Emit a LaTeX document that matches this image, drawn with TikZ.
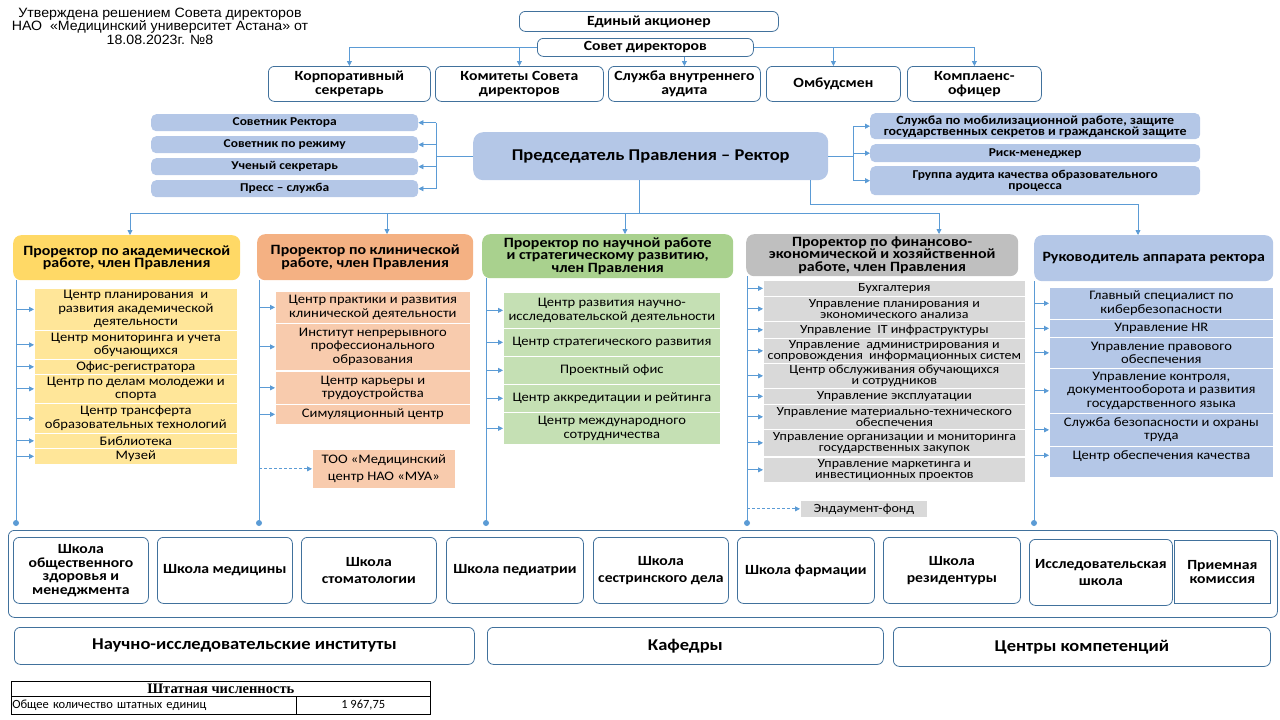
\documentclass[tikz,border=0pt]{standalone}
\usepackage{fontspec}
\setmainfont{Carlito}[FakeStretch=1.12]
\newfontfamily\notefont{Liberation Sans}[FakeStretch=1.05]
\newfontfamily\plainfont{Carlito}
\newfontfamily\tabfont{Liberation Serif}
\usetikzlibrary{arrows.meta}

\definecolor{boxline}{RGB}{65,113,156}
\definecolor{conncol}{RGB}{91,155,213}
\definecolor{lblue}{RGB}{180,199,231}
\definecolor{hgold}{RGB}{255,217,102}
\definecolor{lgold}{RGB}{255,230,153}
\definecolor{hsalmon}{RGB}{244,177,131}
\definecolor{lsalmon}{RGB}{248,203,173}
\definecolor{hgreen}{RGB}{169,209,142}
\definecolor{lgreen}{RGB}{197,224,180}
\definecolor{hgray}{RGB}{191,191,191}
\definecolor{lgray}{RGB}{217,217,217}

\tikzset{
  topbox/.style={draw=boxline, line width=0.8pt, rounded corners=6pt, fill=white,
    anchor=north west, inner sep=0pt, align=center,
    font=\bfseries\fontsize{14}{13.5}\selectfont},
  sidebox/.style={fill=lblue, rounded corners=5pt, anchor=north west, inner sep=0pt,
    align=center, font=\bfseries\fontsize{12}{11}\selectfont},
  headbox/.style={rounded corners=8pt, anchor=north west, inner sep=0pt, align=center,
    font=\bfseries\fontsize{14.2}{12.6}\selectfont},
  unitbox/.style={draw=white, line width=0.7pt, anchor=north west, inner sep=0pt,
    align=center, font=\fontsize{13}{13.5}\selectfont},
  finbox/.style={unitbox, font=\fontsize{12.5}{10.5}\selectfont},
  conn/.style={draw=conncol, line width=0.8pt},
  arr/.style={conn, -{Triangle[length=5pt,width=5pt]}},
  darr/.style={arr, dashed, dash pattern=on 3pt off 2pt},
  tabcell/.style={draw=black, line width=0.6pt, anchor=north west, inner sep=1pt}
}

\begin{document}
\begin{tikzpicture}[x=1pt,y=-1pt]
\useasboundingbox (0,0) rectangle (1280,720);

% note
\node[align=center, font=\notefont\fontsize{13.5}{11.5}\selectfont] (note) at (160,26)
  {Утверждена решением Совета директоров\\НАО \ «Медицинский университет Астана» от\\18.08.2023г. №8};

% board level
\node[topbox, minimum width=259, minimum height=20] (ea) at (519,11) {Единый акционер};
\node[topbox, minimum width=216, minimum height=18] (sd) at (537,38) {Совет директоров};
\node[topbox, minimum width=162, minimum height=35] (ks) at (268,66) {Корпоративный\\секретарь};
\node[topbox, minimum width=168, minimum height=35] (kd) at (435,66) {Комитеты Совета\\директоров};
\node[topbox, minimum width=152, minimum height=35] (sva) at (608,66) {Служба внутреннего\\аудита};
\node[topbox, minimum width=134, minimum height=35] (omb) at (766,66) {Омбудсмен};
\node[topbox, minimum width=134, minimum height=35] (ko) at (907,66) {Комплаенс-\\офицер};

\draw[arr] (sd.west) -| (ks.north);
\draw[arr] (sd.west) -| (kd.north);
\draw[arr] (sd.south -| sva.north) -- (sva.north);
\draw[arr] (sd.east) -| (omb.north);
\draw[arr] (sd.east) -| (ko.north);

% rector
\node[fill=lblue, rounded corners=10pt, anchor=north west, minimum width=355, minimum height=48,
  font=\bfseries\fontsize{16.5}{16}\selectfont] (pr) at (473,132) {Председатель Правления – Ректор};

% left advisers
\node[sidebox, minimum width=267, minimum height=17] (sr) at (151,114) {Советник Ректора};
\node[sidebox, minimum width=267, minimum height=17] (spr) at (151,136) {Советник по режиму};
\node[sidebox, minimum width=267, minimum height=17] (us) at (151,158) {Ученый секретарь};
\node[sidebox, minimum width=267, minimum height=17] (ps) at (151,180) {Пресс – служба};
\coordinate (lj) at (436,156);
\draw[conn] (pr.west) -- (pr.west -| lj);
\draw[conn] (lj |- sr.east) -- (lj |- ps.east);
\foreach \n in {sr,spr,us,ps}
  \draw[arr] (lj |- \n.east) -- (\n.east);

% right services
\node[sidebox, minimum width=330, minimum height=26, font=\bfseries\fontsize{12.5}{11}\selectfont] (smr) at (870,113)
  {Служба по мобилизационной работе, защите\\государственных секретов и гражданской защите};
\node[sidebox, minimum width=330, minimum height=18] (rm) at (870,144) {Риск-менеджер};
\node[sidebox, minimum width=330, minimum height=29] (ga) at (870,166)
  {Группа аудита качества образовательного\\процесса};
\coordinate (rj) at (853,156);
\draw[conn] (pr.east) -- (pr.east -| rj);
\draw[conn] (rj |- smr.west) -- (rj |- ga.west);
\foreach \n in {smr,rm,ga}
  \draw[arr] (rj |- \n.west) -- (\n.west);

% vice-rectors
\node[headbox, fill=hgold, minimum width=227, minimum height=45] (pa) at (13,235)
  {Проректор по академической\\работе, член Правления};
\node[headbox, fill=hsalmon, minimum width=216, minimum height=46] (pk) at (257,234)
  {Проректор по клинической\\работе, член Правления};
\node[headbox, fill=hgreen, minimum width=251, minimum height=44] (pn) at (482,234)
  {Проректор по научной работе\\и стратегическому развитию,\\член Правления};
\node[headbox, fill=hgray, minimum width=272, minimum height=42] (pf) at (746,234)
  {Проректор по финансово-\\экономической и хозяйственной\\работе, член Правления};
\node[headbox, fill=lblue, minimum width=239, minimum height=46] (ru) at (1034,235)
  {Руководитель аппарата ректора};

\coordinate (bus) at (639,213);
\coordinate (ab) at (130,213);
\coordinate (kb) at (387,213);
\coordinate (nb) at (625,213);
\coordinate (fb) at (939,213);
\draw[conn] (bus |- pr.south) -- (bus);
\draw[conn] (ab) -- (fb);
\draw[arr] (ab) -- (ab |- pa.north);
\draw[arr] (kb) -- (kb |- pk.north);
\draw[arr] (nb) -- (nb |- pn.north);
\draw[arr] (fb) -- (fb |- pf.north);
\coordinate (ra) at (810,204);
\coordinate (rb) at (1138,204);
\draw[arr] (ra |- pr.south) -- (ra) -- (rb) -- (rb |- ru.north);

% vertical lines to schools
\coordinate (da) at (16,523);
\coordinate (dk) at (259,523);
\coordinate (dn) at (486,523);
\coordinate (df) at (747,523);
\coordinate (dr) at (1034,523);
\foreach \d/\h in {da/pa,dk/pk,dn/pn,df/pf,dr/ru} {
  \draw[conn] (\d |- \h.south) -- (\d);
  \fill[conncol] (\d) circle (3);
}

% academic units
\node[unitbox, fill=lgold, minimum width=203, minimum height=42] (a1) at (34,288)
  {Центр планирования \ и\\развития академической\\деятельности};
\node[unitbox, fill=lgold, minimum width=203, minimum height=29] (a2) at (34,330)
  {Центр мониторинга и учета\\обучающихся};
\node[unitbox, fill=lgold, minimum width=203, minimum height=15] (a3) at (34,359) {Офис-регистратора};
\node[unitbox, fill=lgold, minimum width=203, minimum height=29] (a4) at (34,374)
  {Центр по делам молодежи и\\спорта};
\node[unitbox, fill=lgold, minimum width=203, minimum height=30] (a5) at (34,403)
  {Центр трансферта\\образовательных технологий};
\node[unitbox, fill=lgold, minimum width=203, minimum height=15] (a6) at (34,433) {Библиотека};
\node[unitbox, fill=lgold, minimum width=203, minimum height=16] (a7) at (34,448) {Музей};
\foreach \n in {a1,a2,a3,a4,a5,a6,a7}
  \draw[arr] (da |- \n.west) -- (\n.west);

% clinical units
\node[unitbox, fill=lsalmon, minimum width=195, minimum height=32] (k1) at (275,291)
  {Центр практики и развития\\клинической деятельности};
\node[unitbox, fill=lsalmon, minimum width=195, minimum height=47] (k2) at (275,323)
  {Институт непрерывного\\профессионального\\образования};
\node[unitbox, fill=lsalmon, minimum width=195, minimum height=33] (k3) at (275,371)
  {Центр карьеры и\\трудоустройства};
\node[unitbox, fill=lsalmon, minimum width=195, minimum height=20] (k4) at (275,404) {Симуляционный центр};
\foreach \n in {k1,k2,k3,k4}
  \draw[arr] (dk |- \n.west) -- (\n.west);
\node[unitbox, fill=lsalmon, minimum width=143, minimum height=39, font=\fontsize{13}{17}\selectfont] (too) at (312,449)
  {ТОО «Медицинский\\центр НАО «МУА»};
\draw[darr] (dk |- too.west) -- (too.west);

% science units
\node[unitbox, fill=lgreen, minimum width=217, minimum height=36] (n1) at (503,292)
  {Центр развития научно-\\исследовательской деятельности};
\node[unitbox, fill=lgreen, minimum width=217, minimum height=28] (n2) at (503,328) {Центр стратегического развития};
\node[unitbox, fill=lgreen, minimum width=217, minimum height=28] (n3) at (503,356) {Проектный офис};
\node[unitbox, fill=lgreen, minimum width=217, minimum height=28] (n4) at (503,384) {Центр аккредитации и рейтинга};
\node[unitbox, fill=lgreen, minimum width=217, minimum height=32] (n5) at (503,412)
  {Центр международного\\сотрудничества};
\foreach \n in {n1,n2,n3,n4,n5}
  \draw[arr] (dn |- \n.west) -- (\n.west);

% finance units
\node[finbox, fill=lgray, minimum width=262, minimum height=16] (f1) at (763,280) {Бухгалтерия};
\node[finbox, fill=lgray, minimum width=262, minimum height=25] (f2) at (763,296)
  {Управление планирования и\\экономического анализа};
\node[finbox, fill=lgray, minimum width=262, minimum height=17] (f3) at (763,321) {Управление \ IT инфраструктуры};
\node[finbox, fill=lgray, minimum width=262, minimum height=25] (f4) at (763,338)
  {Управление \ администрирования и\\сопровождения \ информационных систем};
\node[finbox, fill=lgray, minimum width=262, minimum height=25] (f5) at (763,363)
  {Центр обслуживания обучающихся\\и сотрудников};
\node[finbox, fill=lgray, minimum width=262, minimum height=16] (f6) at (763,388) {Управление эксплуатации};
\node[finbox, fill=lgray, minimum width=262, minimum height=25] (f7) at (763,404)
  {Управление материально-технического\\обеспечения};
\node[finbox, fill=lgray, minimum width=262, minimum height=27] (f8) at (763,429)
  {Управление организации и мониторинга\\государственных закупок};
\node[finbox, fill=lgray, minimum width=262, minimum height=25] (f9) at (763,457)
  {Управление маркетинга и\\инвестиционных проектов};
\foreach \n in {f1,f2,f3,f4,f5,f6,f7,f8,f9}
  \draw[arr] (df |- \n.west) -- (\n.west);
\node[finbox, fill=lgray, minimum width=127, minimum height=17] (ef) at (800,500) {Эндаумент-фонд};
\draw[darr] (df |- ef.west) -- (ef.west);

% rector's office units
\node[unitbox, fill=lblue, minimum width=224, minimum height=32] (r1) at (1049,287)
  {Главный специалист по\\кибербезопасности};
\node[unitbox, fill=lblue, minimum width=224, minimum height=18] (r2) at (1049,319) {Управление HR};
\node[unitbox, fill=lblue, minimum width=224, minimum height=31] (r3) at (1049,337)
  {Управление правового\\обеспечения};
\node[unitbox, fill=lblue, minimum width=224, minimum height=45] (r4) at (1049,368)
  {Управление контроля,\\документооборота и развития\\государственного языка};
\node[unitbox, fill=lblue, minimum width=224, minimum height=33] (r5) at (1049,413)
  {Служба безопасности и охраны\\труда};
\node[unitbox, fill=lblue, minimum width=224, minimum height=31, text depth=14pt] (r6) at (1049,446)
  {Центр обеспечения качества};
\foreach \n in {r1,r2,r3,r4,r5}
  \draw[arr] (dr |- \n.west) -- (\n.west);
\draw[arr] (dr |- r6.text) ++(0,-4) -- ++(15,0);

% schools
\node[topbox, minimum width=1269, minimum height=87] (sch) at (8,530) {};
\node[topbox, minimum width=135, minimum height=66] (s1) at (13,537) {Школа\\общественного\\здоровья и\\менеджмента};
\node[topbox, minimum width=135, minimum height=66] (s2) at (157,537) {Школа медицины};
\node[topbox, minimum width=135, minimum height=66] (s3) at (301,537) {Школа\\[3pt]стоматологии};
\node[topbox, minimum width=137, minimum height=66] (s4) at (446,537) {Школа педиатрии};
\node[topbox, minimum width=135, minimum height=66] (s5) at (593,537) {Школа\\[3pt]сестринского дела};
\node[topbox, minimum width=137, minimum height=66] (s6) at (737,537) {Школа фармации};
\node[topbox, minimum width=137, minimum height=66] (s7) at (883,537) {Школа\\[3pt]резидентуры};
\node[topbox, minimum width=143, minimum height=66] (s8) at (1029,539) {Исследовательская\\[3pt]школа};
\node[topbox, rounded corners=0pt, minimum width=96, minimum height=63] (s9) at (1174,540) {Приемная\\комиссия};

% lower row
\node[topbox, minimum width=460, minimum height=37, font=\bfseries\fontsize{16.5}{16}\selectfont] (ni) at (14,627)
  {Научно-исследовательские институты};
\node[topbox, minimum width=396, minimum height=37, font=\bfseries\fontsize{16.5}{16}\selectfont] (kaf) at (487,627) {Кафедры};
\node[topbox, minimum width=377, minimum height=39, font=\bfseries\fontsize{16.5}{16}\selectfont] (cc) at (893,627) {Центры компетенций};

% staff table
\node[tabcell, minimum width=419, minimum height=15, font=\tabfont\bfseries\fontsize{14.5}{13}\selectfont] (th) at (11,681)
  {Штатная численность};
\node[tabcell, text width=283, minimum height=18, align=left, font=\plainfont\fontsize{12.5}{12}\selectfont] (tl) at (11,696)
  {Общее количество штатных единиц};
\node[tabcell, minimum width=134, minimum height=18, font=\plainfont\fontsize{12.5}{12}\selectfont] (tv) at (296,696)
  {1 967,75};
\end{tikzpicture}
\end{document}
